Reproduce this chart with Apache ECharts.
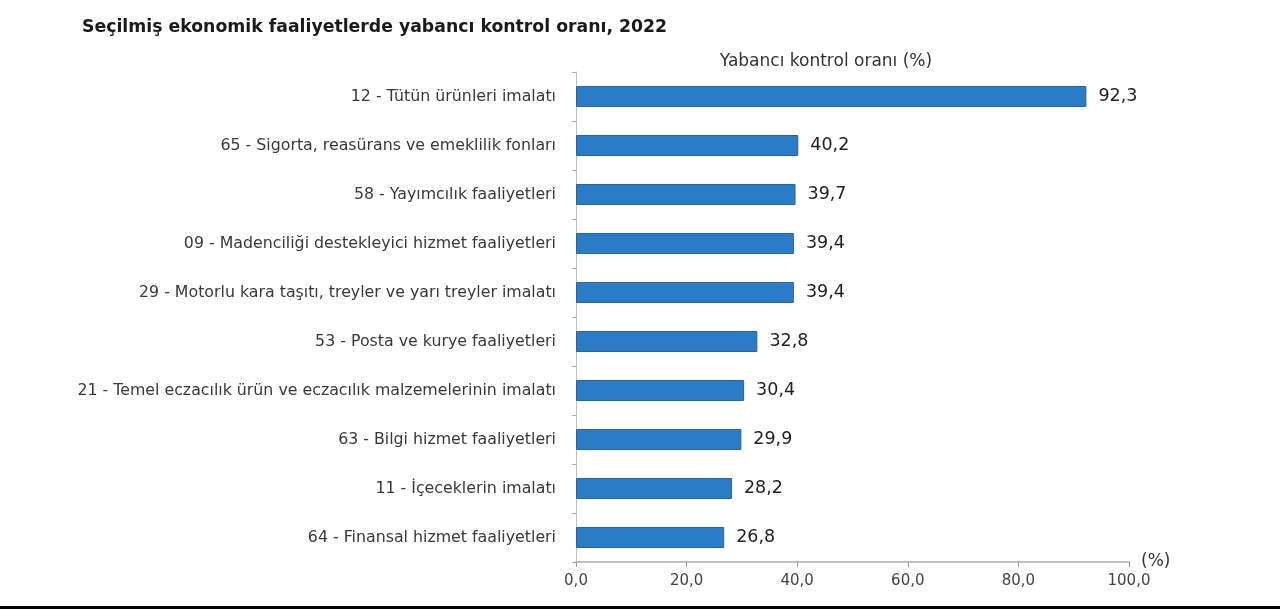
<!DOCTYPE html>
<html>
<head>
<meta charset="utf-8">
<script src="https://cdn.jsdelivr.net/npm/echarts@6/dist/echarts.min.js"></script>
<style>
html,body{margin:0;padding:0;background:#fff;}
#chart{width:1280px;height:609px;}
</style>
</head>
<body>
<div id="chart"></div>
<script>
const categories = [
  "12 - Tütün ürünleri imalatı",
  "65 - Sigorta, reasürans ve emeklilik fonları",
  "58 - Yayımcılık faaliyetleri",
  "09 - Madenciliği destekleyici hizmet faaliyetleri",
  "29 - Motorlu kara taşıtı, treyler ve yarı treyler imalatı",
  "53 - Posta ve kurye faaliyetleri",
  "21 - Temel eczacılık ürün ve eczacılık malzemelerinin imalatı",
  "63 - Bilgi hizmet faaliyetleri",
  "11 - İçeceklerin imalatı",
  "64 - Finansal hizmet faaliyetleri"
];
const values = [92.3, 40.2, 39.7, 39.4, 39.4, 32.8, 30.4, 29.9, 28.2, 26.8];
const titleText = "Seçilmiş ekonomik faaliyetlerde yabancı kontrol oranı, 2022";
const seriesName = "Yabancı kontrol oranı (%)";
const unitText = "(%)";

const fmt = v => Number(v).toFixed(1).replace('.', ',');
const font = "'DejaVu Sans', sans-serif";

const chart = echarts.init(document.getElementById('chart'));
chart.setOption({
  animation: false,
  backgroundColor: '#ffffff',
  title: [
    {
      text: titleText,
      left: 77, top: 14,
      textStyle: { fontFamily: font, fontSize: 17.3, fontWeight: 'bold', color: '#1a1a1a' }
    },
    {
      text: seriesName,
      left: 821, top: 48, textAlign: 'center',
      textStyle: { fontFamily: font, fontSize: 17, fontWeight: 'normal', color: '#333' }
    }
  ],
  grid: { left: 576, right: 151, top: 72, bottom: 47, containLabel: false },
  xAxis: {
    type: 'value',
    min: 0, max: 100, interval: 20,
    name: unitText,
    nameLocation: 'end',
    nameGap: 12,
    nameTextStyle: { fontFamily: font, fontSize: 17, color: '#333', padding: [0, 0, 12, 0] },
    axisLine: { show: true, lineStyle: { color: '#bfbfbf', width: 2 } },
    axisTick: { show: true, length: 5, lineStyle: { color: '#999' } },
    axisLabel: { fontFamily: font, fontSize: 15, color: '#444', margin: 12, formatter: fmt },
    splitLine: { show: false }
  },
  yAxis: {
    type: 'category',
    inverse: true,
    data: categories,
    axisLine: { show: true, lineStyle: { color: '#bfbfbf', width: 1 } },
    axisTick: { show: true, length: 4, lineStyle: { color: '#aaa' } },
    axisLabel: { fontFamily: font, fontSize: 15.8, color: '#383838', margin: 20 }
  },
  series: [{
    type: 'bar',
    name: seriesName,
    data: values,
    barWidth: 21,
    itemStyle: { color: '#2b7cc7', borderColor: '#2566a8', borderWidth: 1 },
    label: {
      show: true, position: 'right', distance: 12,
      fontFamily: font, fontSize: 17.5, color: '#222',
      formatter: p => fmt(p.value)
    }
  }],
  graphic: [{
    type: 'rect',
    shape: { x: 0, y: 606, width: 1280, height: 3 },
    style: { fill: '#000' },
    silent: true
  }]
});
</script>
</body>
</html>
